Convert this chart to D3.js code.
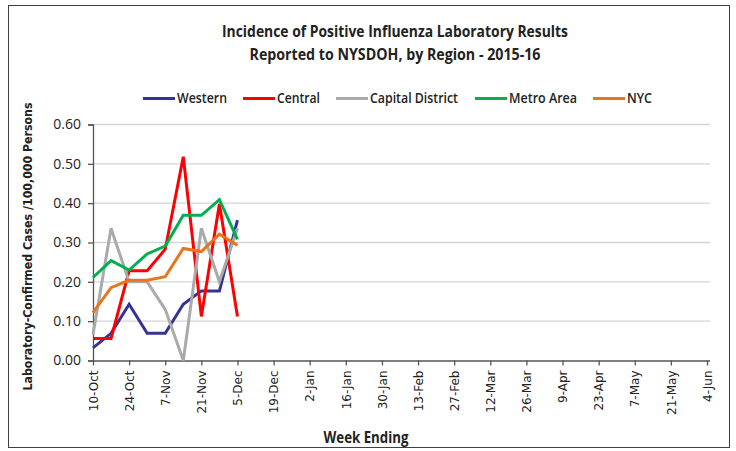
<!DOCTYPE html>
<html>
<head>
<meta charset="utf-8">
<script src="https://cdn.jsdelivr.net/npm/d3@7"></script>
<style>
  body { margin: 0; background: #fff; }
  svg { display: block; }
</style>
</head>
<body>
<div id="chart"></div>
<script>
// Week ending dates, 2015-16 season
const weeks = ["10-Oct", "17-Oct", "24-Oct", "31-Oct", "7-Nov", "14-Nov", "21-Nov", "28-Nov", "5-Dec",
  "12-Dec", "19-Dec", "26-Dec", "2-Jan", "9-Jan", "16-Jan", "23-Jan", "30-Jan", "6-Feb", "13-Feb",
  "20-Feb", "27-Feb", "5-Mar", "12-Mar", "19-Mar", "26-Mar", "2-Apr", "9-Apr", "16-Apr", "23-Apr",
  "30-Apr", "7-May", "14-May", "21-May", "28-May", "4-Jun"];
const tickWeeks = weeks.filter((d, i) => i % 2 === 0);
const yTicks = [0, 0.1, 0.2, 0.3, 0.4, 0.5, 0.6];

const regions = ["Western", "Central", "Capital District", "Metro Area", "NYC"];
const colors = ["#333399", "#ff0000", "#aaaaaa", "#00b050", "#e8751a"];

// values per region, first 9 weeks reported
const western = [0.032, 0.069, 0.143, 0.069, 0.069, 0.143, 0.177, 0.177, 0.357];
const central = [0.056, 0.056, 0.228, 0.228, 0.283, 0.518, 0.112, 0.398, 0.112];
const capitalDistrict = [0.066, 0.336, 0.200, 0.200, 0.130, 0.000, 0.336, 0.200, 0.336];
const metroArea = [0.211, 0.254, 0.230, 0.271, 0.291, 0.369, 0.369, 0.409, 0.308];
const nyc = [0.122, 0.185, 0.204, 0.204, 0.213, 0.285, 0.277, 0.321, 0.293];
const seriesValues = [western, central, capitalDistrict, metroArea, nyc];

const width = 736, height = 451;
const plotLeft = 93, plotRight = 707, plotTop = 124.5, plotBottom = 360.5;
const narrowFont = "'Open Sans', sans-serif";

const svg = d3.select("#chart").append("svg")
  .attr("width", width)
  .attr("height", height);

// outer frame
svg.append("rect")
  .attr("x", 8.5).attr("y", 5.5)
  .attr("width", 721).attr("height", 442)
  .attr("fill", "#fff")
  .attr("stroke", "#404040")
  .attr("stroke-width", 1);

const x = d3.scalePoint().domain(weeks).range([plotLeft, plotRight]);
const y = d3.scaleLinear().domain([0, 0.6]).range([plotBottom, plotTop]);

// gridlines
svg.append("g")
  .selectAll("line")
  .data(yTicks.slice(1))
  .enter().append("line")
  .attr("x1", plotLeft).attr("x2", plotRight + 3)
  .attr("y1", d => y(d)).attr("y2", d => y(d))
  .style("stroke", "#d4d4d4")
  .style("stroke-width", 1.3);

// y axis
const yAxis = svg.append("g")
  .attr("transform", `translate(${plotLeft},0)`)
  .call(d3.axisLeft(y).tickValues(yTicks).tickFormat(d3.format(".2f")).tickSizeOuter(0).tickSize(5).tickPadding(7));
yAxis.selectAll("text")
  .style("font-family", narrowFont)
  .style("font-size", "14px")
  .style("fill", "#222");

// x axis
const xAxis = svg.append("g")
  .attr("transform", `translate(0,${plotBottom})`)
  .call(d3.axisBottom(x).tickValues(tickWeeks).tickSizeOuter(0).tickSize(5));
xAxis.select(".domain").attr("d", `M${plotLeft},0.5H${plotRight + 3}`);
xAxis.selectAll("text")
  .attr("transform", "rotate(-90)")
  .attr("x", -10)
  .attr("y", 0)
  .attr("dy", "0.35em")
  .style("text-anchor", "end")
  .style("font-family", "'DejaVu Sans', sans-serif")
  .style("font-size", "12px")
  .style("fill", "#222");

svg.selectAll(".domain, .tick line")
  .style("stroke", "#555")
  .style("stroke-width", 1.3);

// series lines
const line = d3.line()
  .x((d, i) => x(weeks[i]))
  .y(d => y(d));

svg.append("g")
  .selectAll("path")
  .data(seriesValues)
  .enter().append("path")
  .attr("d", d => line(d))
  .style("fill", "none")
  .style("stroke", (d, i) => colors[i])
  .style("stroke-width", 3)
  .style("stroke-linejoin", "miter");

// title
const titleLines = ["Incidence of Positive Influenza Laboratory Results", "Reported to NYSDOH, by Region - 2015-16"];
const titleWidths = [346, 291];
svg.append("g")
  .selectAll("text")
  .data(titleLines)
  .enter().append("text")
  .attr("x", 395).attr("y", (d, i) => 37 + i * 23)
  .attr("text-anchor", "middle")
  .attr("textLength", (d, i) => titleWidths[i])
  .attr("lengthAdjust", "spacingAndGlyphs")
  .style("font-family", narrowFont)
  .style("font-weight", "bold")
  .style("font-size", "15.5px")
  .style("fill", "#222")
  .text(d => d);

// legend
const legendX = [143, 243, 336, 475, 593];
const legendTextWidths = [50, 43, 88, 68, 25];
const legend = svg.append("g")
  .selectAll("g")
  .data(regions)
  .enter().append("g")
  .attr("transform", (d, i) => `translate(${legendX[i]},98.5)`);
legend.append("line")
  .attr("x1", 0).attr("x2", 32)
  .style("stroke", (d, i) => colors[i])
  .style("stroke-width", 3);
legend.append("text")
  .attr("x", 34).attr("dy", "0.35em")
  .attr("textLength", (d, i) => legendTextWidths[i])
  .attr("lengthAdjust", "spacingAndGlyphs")
  .style("font-family", narrowFont)
  .style("font-weight", 600)
  .style("font-size", "13.5px")
  .style("fill", "#222")
  .text(d => d);

// axis titles
svg.append("text")
  .attr("transform", `translate(32,${(plotTop + plotBottom) / 2 + 4}) rotate(-90)`)
  .attr("text-anchor", "middle")
  .attr("textLength", 288)
  .attr("lengthAdjust", "spacingAndGlyphs")
  .style("font-family", "'DejaVu Sans', sans-serif")
  .style("font-weight", "bold")
  .style("font-size", "11.5px")
  .style("fill", "#222")
  .text("Laboratory-Confirmed Cases /100,000 Persons");

svg.append("text")
  .attr("x", 366).attr("y", 443)
  .attr("text-anchor", "middle")
  .attr("textLength", 85)
  .attr("lengthAdjust", "spacingAndGlyphs")
  .style("font-family", narrowFont)
  .style("font-weight", "bold")
  .style("font-size", "15.5px")
  .style("fill", "#222")
  .text("Week Ending");
</script>
</body>
</html>
